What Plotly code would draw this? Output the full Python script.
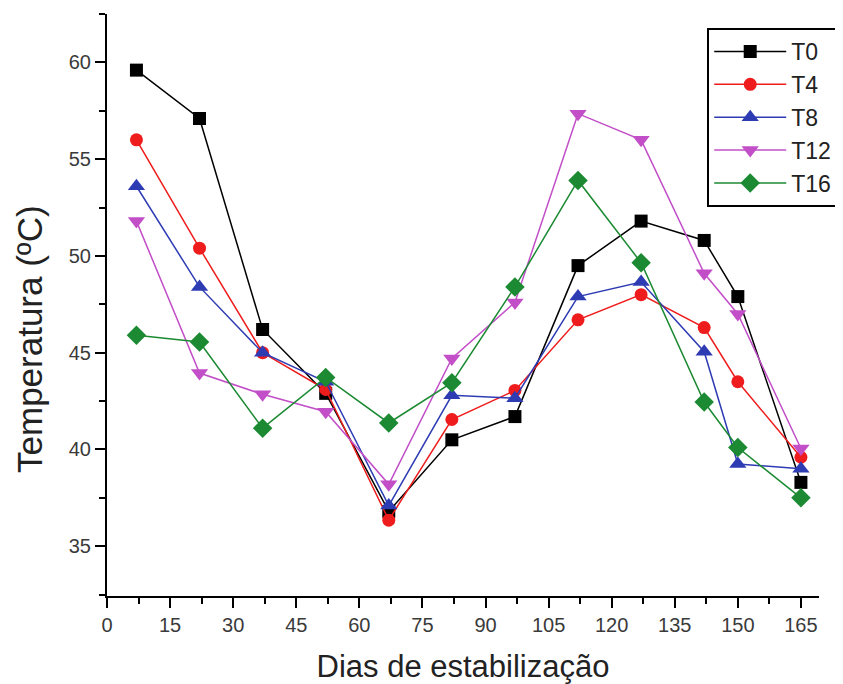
import plotly.graph_objects as go

days = [7, 22, 37, 52, 67, 82, 97, 112, 127, 142, 150, 165]
t0 = [59.6, 57.1, 46.2, 42.9, 36.8, 40.5, 41.7, 49.5, 51.8, 50.8, 47.9, 38.3]
t4 = [56.0, 50.4, 45.0, 43.1, 36.35, 41.55, 43.05, 46.7, 48.0, 46.3, 43.5, 39.6]
t8 = [53.6, 48.4, 45.0, 43.5, 37.1, 42.8, 42.65, 47.9, 48.65, 45.05, 39.25, 39.0]
t12 = [51.8, 43.95, 42.85, 41.95, 38.2, 44.7, 47.6, 57.35, 56.0, 49.1, 47.0, 40.05]
t16 = [45.9, 45.55, 41.1, 43.72, 41.37, 43.45, 48.4, 53.9, 49.65, 42.45, 40.1, 37.5]

series_names = ["T0", "T4", "T8", "T12", "T16"]
series_values = [t0, t4, t8, t12, t16]
colors = ["#000000", "#ee1c1c", "#2e3cb4", "#c24ec8", "#1b8a32"]
symbols = ["square", "circle", "triangle-up", "triangle-down", "diamond"]
sizes = [13, 13, 15, 15, 15]

x_ticks = [0, 15, 30, 45, 60, 75, 90, 105, 120, 135, 150, 165]
y_ticks = [35, 40, 45, 50, 55, 60]

fig = go.Figure()
for name, vals, c, s, sz in zip(series_names, series_values, colors, symbols, sizes):
    fig.add_trace(go.Scatter(
        x=days, y=vals, name=name, mode="lines+markers",
        line=dict(color=c, width=1.5),
        marker=dict(symbol=s, size=sz, color=c, line=dict(width=0)),
    ))

FONT = "Liberation Sans, Arial, sans-serif"
tick_font = dict(family=FONT, size=20, color="#3a3a3a")
title_font = dict(family=FONT, size=31, color="#222222")

fig.add_annotation(
    text="Temperatura (ºC)", textangle=-90,
    xref="paper", yref="paper", x=0, y=0.4416,
    xanchor="center", yanchor="middle", xshift=-77,
    showarrow=False, font=dict(family=FONT, size=35, color="#222222"),
)

fig.update_layout(
    width=835, height=676,
    margin=dict(l=99, r=24, t=6, b=88, autoexpand=False),
    paper_bgcolor="white", plot_bgcolor="white",
    showlegend=True,
    legend=dict(
        x=0.843, y=0.976, xanchor="left", yanchor="top",
        bordercolor="#000000", borderwidth=2, bgcolor="white",
        font=dict(family=FONT, size=23, color="#222222"),
        tracegroupgap=0, itemwidth=72,
    ),
    xaxis=dict(
        range=[0, 169.3], tickvals=x_ticks, ticktext=[str(v) for v in x_ticks],
        showline=True, linecolor="#000000", linewidth=2, mirror=False,
        ticks="outside", ticklen=10, tickwidth=2, tickcolor="#000000",
        minor=dict(ticks="outside", ticklen=6, tickwidth=2, tickcolor="#000000", dtick=7.5, tick0=0),
        showgrid=False, zeroline=False, tickfont=tick_font, automargin=True,
        title=dict(text="Dias de estabilização", font=title_font, standoff=20),
    ),
    yaxis=dict(
        range=[32.43, 62.5], tickvals=y_ticks, ticktext=[str(v) for v in y_ticks],
        showline=True, linecolor="#000000", linewidth=2, mirror=False,
        ticks="outside", ticklen=10, tickwidth=2, tickcolor="#000000",
        minor=dict(ticks="outside", ticklen=6, tickwidth=2, tickcolor="#000000", dtick=2.5, tick0=0),
        showgrid=False, zeroline=False, tickfont=tick_font, automargin=True,
    ),
)

fig.write_html("out.html")
